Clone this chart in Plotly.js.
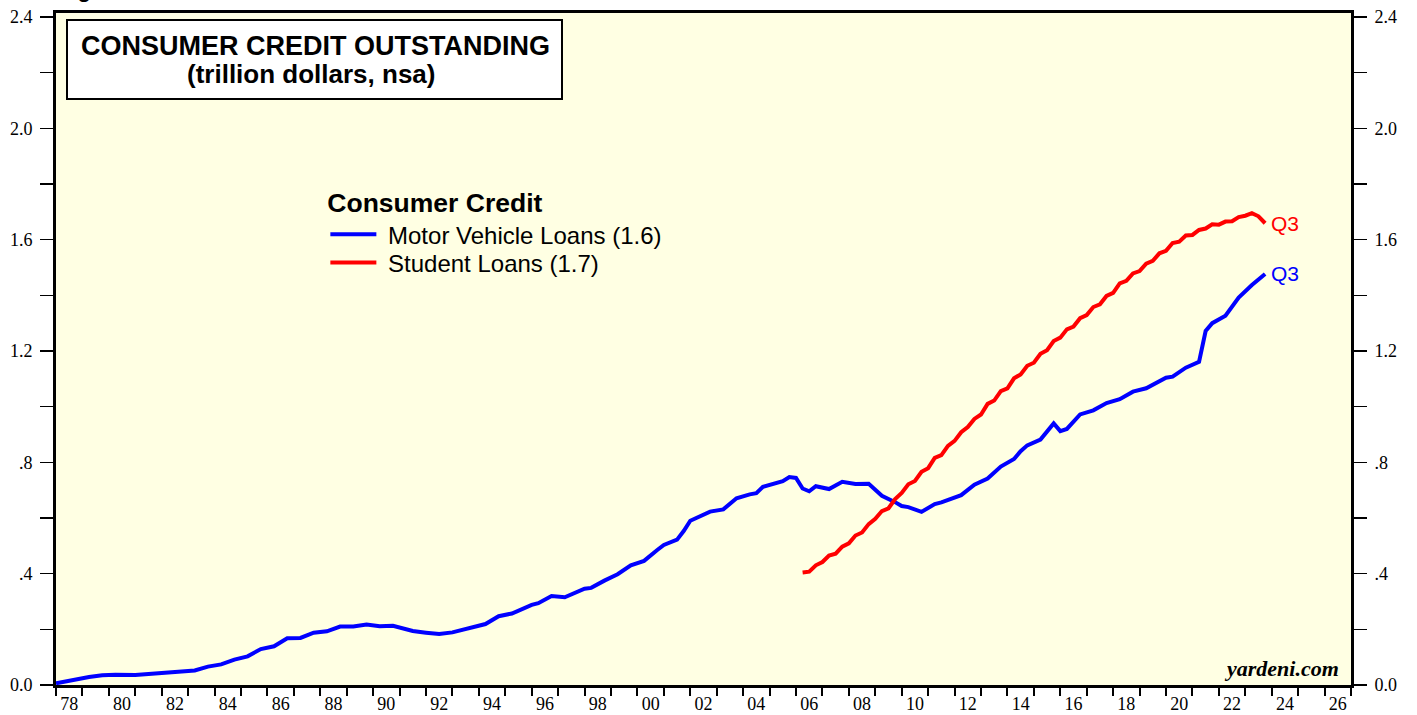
<!DOCTYPE html>
<html><head><meta charset="utf-8">
<script src="https://cdn.plot.ly/plotly-3.0.1.min.js"></script>
<style>html,body{margin:0;padding:0;background:#fff}#chart{width:1417px;height:715px}</style>
</head><body><div id="chart"></div>
<script>
// Motor vehicle loans (trillion $), dates as decimal years (quarter ends)
const mvDates = [1978.0,1978.75,1979.25,1979.75,1980.25,1981.0,1981.5,1981.75,1982.25,1982.5,1983.25,1983.75,1984.25,1984.75,1985.25,1985.75,1986.25,1986.75,1987.25,1987.75,1988.25,1988.75,1989.25,1989.75,1990.25,1990.75,1991.5,1992.0,1992.5,1993.0,1993.5,1994.25,1994.75,1995.25,1996.0,1996.25,1996.75,1997.25,1998.0,1998.25,1998.75,1999.25,1999.75,2000.25,2000.75,2001.0,2001.5,2001.75,2002.0,2002.25,2002.75,2003.25,2003.75,2004.25,2004.5,2004.75,2005.5,2005.75,2006.0,2006.25,2006.5,2006.75,2007.25,2007.75,2008.25,2008.75,2009.25,2009.75,2010.0,2010.25,2010.75,2011.25,2011.5,2012.25,2012.75,2013.25,2013.75,2014.25,2014.5,2014.75,2015.25,2015.75,2016.0,2016.25,2016.75,2017.25,2017.75,2018.25,2018.75,2019.25,2019.75,2020.0,2020.25,2020.75,2021.25,2021.5,2021.75,2022.25,2022.75,2023.25,2023.75];
const mvValues = [0.006,0.021,0.029,0.035,0.037,0.036,0.039,0.044,0.045,0.048,0.052,0.066,0.074,0.091,0.103,0.129,0.139,0.168,0.169,0.188,0.193,0.210,0.210,0.217,0.211,0.213,0.194,0.188,0.183,0.189,0.202,0.219,0.247,0.257,0.288,0.294,0.320,0.315,0.346,0.349,0.375,0.398,0.430,0.446,0.485,0.503,0.522,0.553,0.590,0.602,0.623,0.631,0.671,0.685,0.689,0.712,0.732,0.747,0.744,0.706,0.696,0.714,0.704,0.730,0.722,0.723,0.680,0.657,0.643,0.639,0.622,0.650,0.656,0.682,0.720,0.742,0.785,0.812,0.840,0.861,0.882,0.940,0.912,0.920,0.972,0.987,1.013,1.027,1.054,1.066,1.091,1.104,1.108,1.140,1.161,1.272,1.300,1.327,1.392,1.437,1.477];

// Student loans (trillion $), quarterly 2006Q1 .. 2023Q3
const slStartYear = 2006, slStartQuarter = 1;
const slValues = [0.404,0.407,0.430,
 0.442,0.465,0.472,0.497,
 0.509,0.537,0.548,0.578,
 0.597,0.625,0.635,0.668,
 0.690,0.721,0.733,0.766,
 0.779,0.816,0.826,0.859,
 0.877,0.908,0.927,0.956,
 0.972,1.010,1.022,1.056,
 1.066,1.102,1.116,1.147,
 1.158,1.190,1.203,1.236,
 1.248,1.278,1.288,1.318,
 1.329,1.358,1.368,1.398,
 1.409,1.443,1.452,1.479,
 1.487,1.514,1.524,1.551,
 1.560,1.588,1.593,1.615,
 1.617,1.635,1.640,1.655,
 1.654,1.665,1.666,1.681,
 1.686,1.695,1.684,1.659];
const slDates = slValues.map((v, i) => slStartYear + (slStartQuarter + i) / 4);

// Axis ticks
const xTickYears = ['78','80','82','84','86','88','90','92','94','96','98','00','02','04','06','08','10','12','14','16','18','20','22','24','26'];
const xTickVals = xTickYears.map((s, i) => 1978.5 + 2 * i);
const yTickVals = [0,0.2,0.4,0.6,0.8,1.0,1.2,1.4,1.6,1.8,2.0,2.2,2.4];
const yTickText = ['0.0','','.4','','.8','','1.2','','1.6','','2.0','','2.4'];

const serif = 'Liberation Serif, Times New Roman, serif';
const sans = 'Liberation Sans, Arial, Helvetica, sans-serif';
const yRange = [0, 2.4144];
const NB = '\u00a0';

const traces = [
  {x: mvDates, y: mvValues, type: 'scatter', mode: 'lines', name: NB + 'Motor Vehicle Loans (1.6)',
   line: {color: '#0000ff', width: 4}, yaxis: 'y', legend: 'legend'},
  {x: slDates, y: slValues, type: 'scatter', mode: 'lines', name: NB + 'Student Loans (1.7)',
   line: {color: '#ff0000', width: 4}, yaxis: 'y2', legend: 'legend2'}
];

const yCommon = {
  range: yRange, tickmode: 'array', tickvals: yTickVals, ticktext: yTickText,
  ticks: 'outside', ticklen: 13, tickwidth: 1.5, tickcolor: '#000',
  showline: true, linewidth: 3, linecolor: '#000', showgrid: false, zeroline: false,
  tickfont: {family: serif, size: 18, color: '#000'}, ticklabelstandoff: 4, fixedrange: true
};

const legendCommon = {
  xanchor: 'left', bgcolor: 'rgba(0,0,0,0)', borderwidth: 0, itemwidth: 46,
  font: {family: sans, size: 24, color: '#000'}
};

const layout = {
  width: 1417, height: 715,
  margin: {l: 56, r: 66, t: 13, b: 30},
  paper_bgcolor: '#ffffff', plot_bgcolor: '#ffffe3',
  showlegend: true,
  legend: Object.assign({}, legendCommon, {
    x: 0.208, y: 0.755, yanchor: 'top',
    title: {text: '<b>Consumer Credit</b>', font: {family: sans, size: 26.5, color: '#000'}}
  }),
  legend2: Object.assign({}, legendCommon, {
    x: 0.208, y: (685-263)/672, yanchor: 'middle'
  }),
  xaxis: {
    range: [1978, 2027], tickmode: 'array', tickvals: xTickVals, ticktext: xTickYears,
    ticks: 'outside', ticklen: 0.5, tickcolor: 'rgba(0,0,0,0)',
    showline: true, linewidth: 3, linecolor: '#000', mirror: true,
    showgrid: false, zeroline: false,
    tickfont: {family: serif, size: 18, color: '#000'},
    minor: {tickmode: 'linear', tick0: 1978, dtick: 1, ticks: 'outside', ticklen: 8, tickwidth: 2, tickcolor: '#000', showgrid: false},
    fixedrange: true
  },
  yaxis: Object.assign({}, yCommon, {side: 'left'}),
  yaxis2: Object.assign({}, yCommon, {side: 'right', overlaying: 'y'}),
  shapes: [
    {type: 'rect', xref: 'paper', yref: 'paper', x0: (67-56)/1295, x1: (562-56)/1295, y0: (685-99)/672, y1: (685-20)/672,
     line: {color: '#000', width: 2}, fillcolor: '#ffffff', layer: 'above'}
  ],
  annotations: [
    {xref: 'paper', yref: 'paper', x: (315-56)/1295, y: (685-46)/672, xanchor: 'center', yanchor: 'middle',
     text: '<b>CONSUMER CREDIT OUTSTANDING</b>', showarrow: false, font: {family: sans, size: 27, color: '#000'}},
    {xref: 'paper', yref: 'paper', x: (311-56)/1295, y: (685-74)/672, xanchor: 'center', yanchor: 'middle',
     text: '<b>(trillion dollars, nsa)</b>', showarrow: false, font: {family: sans, size: 26, color: '#000'}},
    {xref: 'x', yref: 'y', x: mvDates[mvDates.length-1], y: mvValues[mvValues.length-1], xanchor: 'left', yanchor: 'middle',
     xshift: 4, text: 'Q3', showarrow: false, font: {family: sans, size: 21, color: '#0000ff'}},
    {xref: 'x', yref: 'y', x: slDates[slDates.length-1], y: slValues[slValues.length-1], xanchor: 'left', yanchor: 'middle',
     xshift: 4, text: 'Q3', showarrow: false, font: {family: sans, size: 21, color: '#ff0000'}},
    {xref: 'paper', yref: 'paper', x: (1341-56)/1295, y: (685-668)/672, xanchor: 'right', yanchor: 'middle',
     text: '<b><i>yardeni.com</i></b>', showarrow: false, font: {family: serif, size: 22, color: '#000'}},
    {xref: 'paper', yref: 'paper', x: 0, y: (685-4)/672, xanchor: 'left', yanchor: 'bottom',
     text: '<b>Figure 1.</b>', showarrow: false, font: {family: sans, size: 22, color: '#000'}}
  ]
};

Plotly.newPlot('chart', traces, layout, {displayModeBar: false, staticPlot: true});
</script></body></html>
